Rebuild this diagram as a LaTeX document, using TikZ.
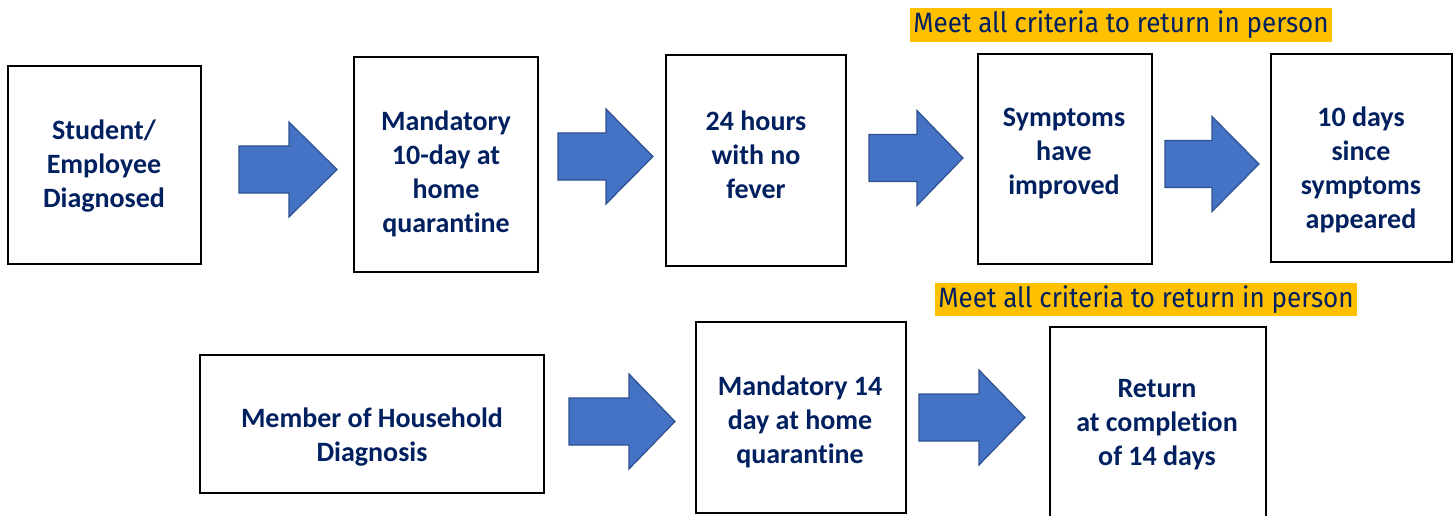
\documentclass[tikz,border=0pt]{standalone}
\usepackage{fontspec}
\setmainfont{Carlito}[Ligatures=NoCommon]
\newfontfamily\hlfont{Fira Sans}
\definecolor{navy}{HTML}{002060}
\definecolor{arrowfill}{HTML}{4472C4}
\definecolor{arrowedge}{HTML}{2F528F}
\definecolor{hlyellow}{HTML}{FFC000}
\tikzset{
  stepbox/.style={draw=black, line width=2pt, fill=white},
  boxtext/.style={text=navy, font=\bfseries\fontsize{28}{34}\selectfont, align=center, inner sep=0pt},
  hlbox/.style={fill=hlyellow, text=navy, inner sep=0pt, font=\hlfont\fontsize{28}{30}\selectfont},
  fatarrow/.style={fill=arrowfill, draw=arrowedge, line width=1.2pt, line join=miter}
}
\newcommand\bigarrow[5]{% left x, center y, body length, head length, name
  \draw[fatarrow] (#1,#2) ++(0,-23.5) -- ++(#3,0) -- ++(0,-24) -- ++(#4,47.5) -- ++(-#4,47.5) -- ++(0,-24) -- ++(-#3,0) -- cycle;
  \coordinate (#5) at (#1+#3,#2);
}
\begin{document}
\begin{tikzpicture}[x=1pt,y=-1pt]
\useasboundingbox (0,0) rectangle (1456,516);
% top row boxes
\node[stepbox, minimum width=193, minimum height=198] (b1) at (104,165) {};
\node[stepbox, minimum width=184, minimum height=215] (b2) at (446,164.5) {};
\node[stepbox, minimum width=180, minimum height=211] (b3) at (756,160.5) {};
\node[stepbox, minimum width=174, minimum height=209] (b4) at (1064.5,159) {};
\node[stepbox, minimum width=181, minimum height=208] (b5) at (1361.5,158) {};
% bottom row boxes
\node[stepbox, minimum width=344, minimum height=138] (b6) at (372,424) {};
\node[stepbox, minimum width=210, minimum height=191] (b7) at (801,417.5) {};
\node[stepbox, minimum width=216, minimum height=200] (b8) at (1158,427) {};
% texts
\node[boxtext] (t1) at (104,166) {Student/\\Employee\\Diagnosed};
\node[boxtext] (t2) at (446,174) {Mandatory\\10-day at\\home\\quarantine};
\node[boxtext] (t3) at (756,154.5) {24 hours\\with no\\fever};
\node[boxtext] (t4) at (1064,154) {Symptoms\\have\\improved};
\node[boxtext] (t5) at (1361,170) {10 days\\since\\symptoms\\appeared};
\node[boxtext] (t6) at (372,437.5) {Member of Household\\Diagnosis};
\node[boxtext] (t7) at (800,421.5) {Mandatory 14\\day at home\\quarantine};
\node[boxtext] (t8) at (1157,425) {Return\\at completion\\of 14 days};
% highlighted labels
\node[hlbox, minimum width=422, minimum height=33.5] (h1) at (1121,25) {\scalebox{0.93}[1]{Meet all criteria to return in person}};
\node[hlbox, minimum width=422, minimum height=33] (h2) at (1146,299.5) {\scalebox{0.93}[1]{Meet all criteria to return in person}};
% block arrows
\bigarrow{239}{169.5}{50}{48}{a1}
\bigarrow{558}{156.5}{48}{47}{a2}
\bigarrow{869}{158}{48}{46}{a3}
\bigarrow{1165}{164}{47}{47}{a4}
\bigarrow{569}{421.5}{60}{46}{a5}
\bigarrow{919}{417.5}{60}{46}{a6}
\end{tikzpicture}
\end{document}
